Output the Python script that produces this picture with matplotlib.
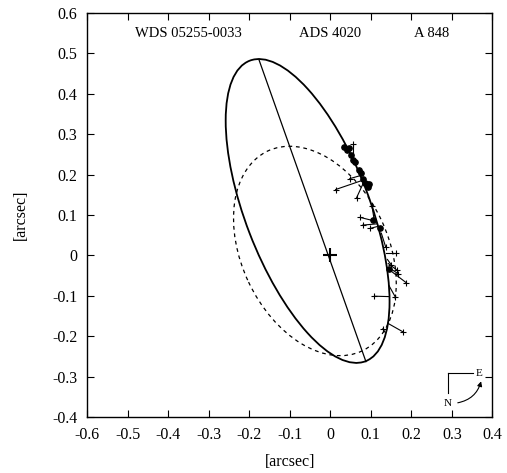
import matplotlib
matplotlib.use('Agg')
import matplotlib.pyplot as plt
from matplotlib.patches import Ellipse

plt.rcParams['font.family'] = ['Liberation Serif', 'DejaVu Serif']
plt.rcParams['axes.unicode_minus'] = False

# Orbita actual (elipse aparente): centro, ejes y angulo
orbit_center = (-0.056, 0.11)
orbit_axes = (0.797, 0.307)
orbit_angle = -69.0

# Orbita anterior (linea discontinua)
old_center = (-0.038, 0.011)
old_axes = (0.547, 0.362)
old_angle = -64.8

# Linea de apsides: apoastro -> periastro
apsides_x = [-0.176, 0.088]
apsides_y = [0.484, -0.263]

# Observaciones interferometricas (circulos llenos)
speckle_x = [0.035, 0.041, 0.045, 0.052, 0.057, 0.060, 0.071, 0.075, 0.080,
             0.085, 0.090, 0.095, 0.092, 0.105, 0.122, 0.146]
speckle_y = [0.269, 0.262, 0.266, 0.248, 0.236, 0.232, 0.211, 0.203, 0.188,
             0.178, 0.176, 0.176, 0.170, 0.087, 0.067, -0.034]

# Observaciones visuales (cruces) y posiciones calculadas (O-C)
visual_x = [0.057, 0.048, 0.013, 0.065, 0.103, 0.074, 0.080, 0.099, 0.137,
            0.161, 0.151, 0.164, 0.167, 0.188, 0.160, 0.109, 0.179, 0.130]
visual_y = [0.275, 0.190, 0.163, 0.143, 0.122, 0.094, 0.075, 0.067, 0.020,
            0.006, -0.024, -0.036, -0.045, -0.068, -0.102, -0.101, -0.189, -0.181]
calc_x = [0.057, 0.076, 0.080, 0.082, 0.108, 0.110, 0.114, 0.118, 0.126,
          0.138, 0.141, 0.143, 0.144, 0.145, 0.145, 0.146, 0.142, 0.135]
calc_y = [0.245, 0.198, 0.186, 0.180, 0.090, 0.085, 0.078, 0.072, 0.055,
          0.006, -0.010, -0.020, -0.030, -0.035, -0.075, -0.102, -0.168, -0.190]

labels = ['WDS 05255-0033', 'ADS 4020', 'A 848']
label_x = [-0.35, 0.0, 0.25]

fig = plt.figure(figsize=(5.07, 4.73), dpi=100)
ax = fig.add_axes([0.1722, 0.1184, 0.7988, 0.8541])

ax.add_patch(Ellipse(orbit_center, orbit_axes[0], orbit_axes[1], angle=orbit_angle,
                     fill=False, edgecolor='black', linewidth=1.3))
ax.add_patch(Ellipse(old_center, old_axes[0], old_axes[1], angle=old_angle,
                     fill=False, edgecolor='black', linewidth=0.9, linestyle=(0, (3, 3))))
ax.plot(apsides_x, apsides_y, color='black', linewidth=0.9)

# lineas O-C
for xo, yo, xc, yc in zip(visual_x, visual_y, calc_x, calc_y):
    ax.plot([xo, xc], [yo, yc], color='black', linewidth=0.8)
ax.plot(visual_x, visual_y, '+', color='black', markersize=5, markeredgewidth=0.8)
ax.plot(speckle_x, speckle_y, 'o', color='black', markersize=3.8)

# estrella principal
ax.plot([0], [0], '+', color='black', markersize=10, markeredgewidth=1.5)

for lab, lx in zip(labels, label_x):
    ax.text(lx, 0.55, lab, ha='center', va='center', fontsize=10.5)

# brujula N-E
ax.plot([0.890, 0.890], [0.059, 0.108], color='black', linewidth=0.8, transform=ax.transAxes)
ax.plot([0.890, 0.953], [0.108, 0.108], color='black', linewidth=0.8, transform=ax.transAxes)
ax.text(0.890, 0.034, 'N', ha='center', va='center', fontsize=8, transform=ax.transAxes)
ax.text(0.968, 0.108, 'E', ha='center', va='center', fontsize=8, transform=ax.transAxes)
ax.annotate('', xy=(0.974, 0.095), xytext=(0.908, 0.034), xycoords='axes fraction',
            arrowprops=dict(arrowstyle='-|>', color='black', lw=0.8,
                            mutation_scale=7, connectionstyle='arc3,rad=0.35'))

ax.set_xlim(-0.6, 0.4)
ax.set_ylim(-0.4, 0.6)
ax.set_xticks([-0.6, -0.5, -0.4, -0.3, -0.2, -0.1, 0, 0.1, 0.2, 0.3, 0.4])
ax.set_xticklabels(['-0.6', '-0.5', '-0.4', '-0.3', '-0.2', '-0.1', '0', '0.1', '0.2', '0.3', '0.4'])
ax.set_yticks([-0.4, -0.3, -0.2, -0.1, 0, 0.1, 0.2, 0.3, 0.4, 0.5, 0.6])
ax.set_yticklabels(['-0.4', '-0.3', '-0.2', '-0.1', '0', '0.1', '0.2', '0.3', '0.4', '0.5', '0.6'])
ax.tick_params(direction='in', top=True, right=True, length=5, width=0.8,
               labelsize=11.5, pad=7)
for s in ax.spines.values():
    s.set_linewidth(1.0)
ax.set_xlabel('[arcsec]', fontsize=11.5, labelpad=8)
ax.set_ylabel('[arcsec]', fontsize=11.5, labelpad=17)

fig.savefig('out.png', dpi=100)
